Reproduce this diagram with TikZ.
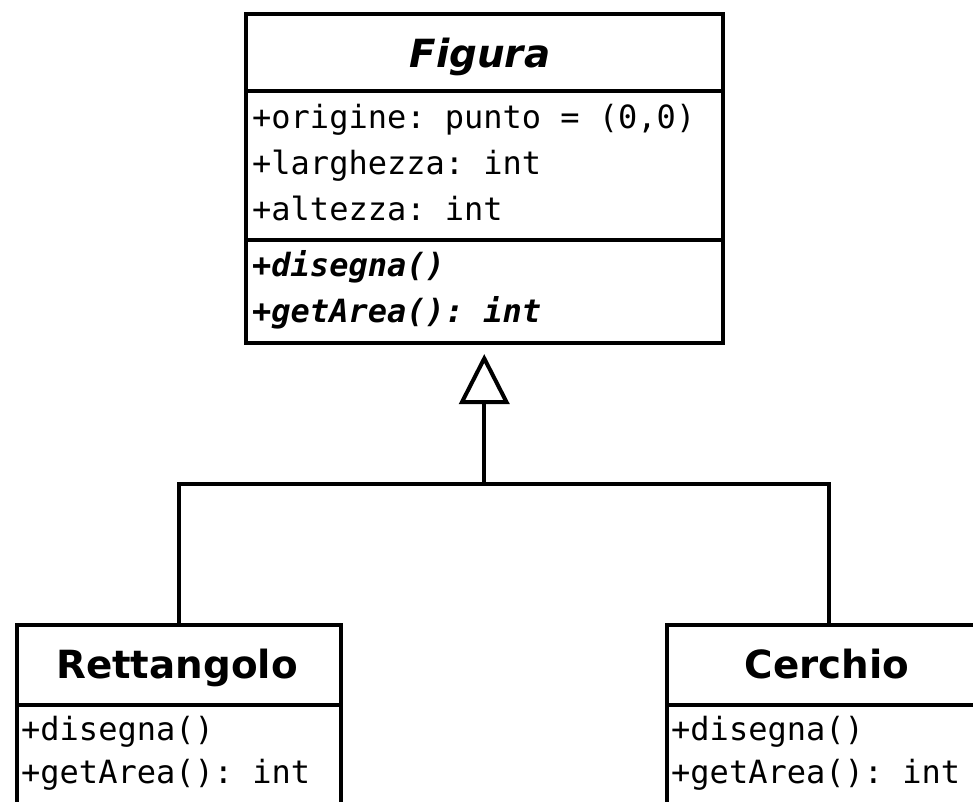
\documentclass[tikz,border=0pt]{standalone}
\usepackage{fontspec}
\usetikzlibrary{arrows.meta}
\newfontfamily\umlsans{DejaVu Sans}
\newfontfamily\umlmono{DejaVu Sans Mono}
\begin{document}
\frenchspacing
\begin{tikzpicture}[x=1pt,y=-1pt,
  compartment/.style={draw, line width=4pt, inner sep=0pt, anchor=north west},
  classname/.style={font=\umlsans\bfseries\fontsize{38.8}{45}\selectfont, anchor=base, inner sep=0pt},
  abstractname/.style={font=\umlsans\bfseries\itshape\fontsize{38.8}{45}\selectfont, anchor=base, inner sep=0pt},
  member/.style={font=\umlmono\fontsize{32}{46}\selectfont, anchor=base west, inner sep=0pt},
  abstractmember/.style={font=\umlmono\bfseries\itshape\fontsize{32}{46}\selectfont, anchor=base west, inner sep=0pt},
  link/.style={line width=4pt},
]
\useasboundingbox (0,0) rectangle (973,801);
\fill[white] (0,0) rectangle (973,801);
\clip (0,0) rectangle (973,801);

% abstract class Figura
\node[compartment, minimum width=477.5pt, minimum height=77pt] (figura) at (243.5,12) {};
\node[compartment, minimum width=477.5pt, minimum height=149pt] (figura-attr) at (243.5,89) {};
\node[compartment, minimum width=477.5pt, minimum height=103pt] (figura-ops) at (243.5,238) {};
\node[abstractname] (figura-name) at (480,67) {Figura};
\node[member] (figura-a1) at (252,128) {+origine: punto = (0,0)};
\node[member] (figura-a2) at (252,174) {+larghezza: int};
\node[member] (figura-a3) at (252,220) {+altezza: int};
\node[abstractmember] (figura-m1) at (252,276) {+disegna()};
\node[abstractmember] (figura-m2) at (252,322) {+getArea(): int};

% class Rettangolo
\node[compartment, minimum width=324pt, minimum height=80pt] (rett) at (15,623) {};
\node[compartment, minimum width=324pt, minimum height=130pt] (rett-ops) at (15,703) {};
\node[classname] (rett-name) at (177,678) {Rettangolo};
\node[member] (rett-m1) at (21,740) {+disegna()};
\node[member] (rett-m2) at (21,783) {+getArea(): int};

% class Cerchio
\node[compartment, minimum width=324pt, minimum height=80pt] (cerch) at (665,623) {};
\node[compartment, minimum width=324pt, minimum height=130pt] (cerch-ops) at (665,703) {};
\node[classname] (cerch-name) at (827,678) {Cerchio};
\node[member] (cerch-m1) at (671,740) {+disegna()};
\node[member] (cerch-m2) at (671,783) {+getArea(): int};

% generalization
\coordinate (fork) at (figura-ops.south |- 0,484);
\draw[link] (rett.north) |- (fork) -| (cerch.north);
\draw[link, -{Triangle[open, length=50pt, width=50pt, line width=4pt]}, shorten >=9pt]
  (fork) -- (figura-ops.south);
\end{tikzpicture}
\end{document}
